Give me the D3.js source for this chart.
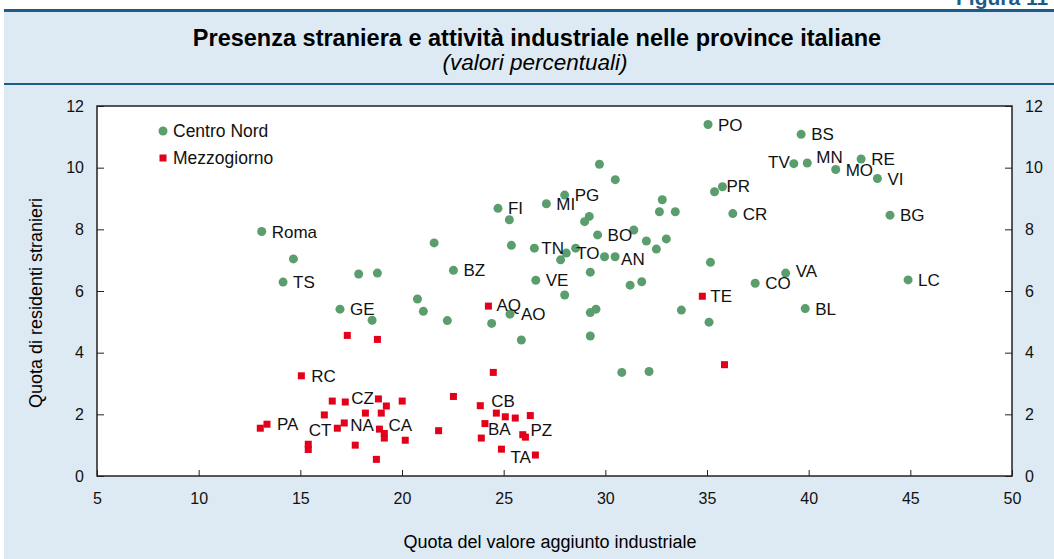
<!DOCTYPE html>
<html>
<head>
<meta charset="utf-8">
<script src="https://cdn.jsdelivr.net/npm/d3@7"></script>
<style>
  body { margin: 0; background: #ffffff; }
  svg { display: block; font-family: "Liberation Sans", Arial, Helvetica, sans-serif; }
</style>
</head>
<body>
<script>
// data: Centro Nord (x = quota valore aggiunto industriale, y = quota residenti stranieri)
const nord_x = [13.1, 14.66, 14.15, 17.87, 18.79, 21.58, 16.95, 18.53, 20.76, 21.05, 22.23,
    29.71, 30.49, 24.72, 25.28, 27.1, 28.0, 29.21, 28.98, 32.8, 32.66, 33.44, 35.37, 35.76,
    29.62, 31.4, 32.02, 33.0, 32.51, 25.38, 26.51, 28.08, 28.54, 27.8, 29.96, 30.48, 29.26,
    22.53, 26.58, 28.0, 24.41, 25.31, 25.87, 29.26, 29.54, 29.26, 31.22, 31.79, 35.17, 33.74,
    35.1, 30.81, 32.15, 35.05, 39.63, 39.27, 39.93, 42.58, 41.33, 43.38, 36.27, 44.0, 38.87,
    37.37, 44.89, 39.83]
const nord_y = [7.93, 7.04, 6.29, 6.55, 6.58, 7.56, 5.41, 5.05, 5.74, 5.34, 5.04,
    10.11, 9.61, 8.68, 8.31, 8.83, 9.11, 8.42, 8.25, 8.96, 8.57, 8.57, 9.22, 9.38,
    7.82, 7.98, 7.62, 7.69, 7.36, 7.48, 7.39, 7.23, 7.39, 7.01, 7.11, 7.11, 6.61,
    6.67, 6.35, 5.87, 4.95, 5.25, 4.41, 5.30, 5.41, 4.54, 6.19, 6.30, 6.93, 5.38,
    4.99, 3.36, 3.39, 11.40, 11.08, 10.13, 10.15, 10.28, 9.94, 9.65, 8.51, 8.46, 6.58,
    6.25, 6.36, 5.43]
const nord_labels = ['Roma', '', 'TS', '', '', '', 'GE', '', '', '', '',
    '', '', 'FI', '', 'MI', 'PG', '', '', '', '', '', '', 'PR',
    'BO', '', '', '', '', '', 'TN', 'TO', '', '', '', 'AN', '',
    'BZ', 'VE', '', '', 'AO', '', '', '', '', '', '', '', '',
    '', '', '', 'PO', 'BS', 'TV', 'MN', 'RE', 'MO', 'VI', 'CR', 'BG', 'VA',
    'CO', 'LC', 'BL']

// data: Mezzogiorno
const sud_x = [17.31, 18.79, 15.05, 24.49, 16.57, 17.21, 18.84, 19.23, 20.01, 22.53, 16.18,
    18.2, 18.98, 13.36, 13.03, 17.16, 16.82, 18.89, 19.13, 19.13, 20.16, 15.39, 15.39,
    17.7, 18.74, 21.8, 23.85, 24.64, 25.08, 25.57, 26.31, 24.08, 23.9, 25.94, 26.07,
    24.89, 26.56, 24.25, 34.77, 35.86]
const sud_y = [4.56, 4.43, 3.25, 3.36, 2.43, 2.40, 2.50, 2.27, 2.43, 2.58, 1.98,
    2.04, 2.04, 1.68, 1.55, 1.72, 1.55, 1.52, 1.38, 1.23, 1.16, 1.03, 0.86,
    1.0, 0.54, 1.47, 2.28, 2.04, 1.92, 1.88, 1.96, 1.70, 1.23, 1.34, 1.26,
    0.87, 0.68, 5.51, 5.83, 3.61]
const sud_labels = ['', '', 'RC', '', '', 'CZ', '', '', '', '', '',
    '', '', 'PA', '', 'NA', 'CT', 'CA', '', '', '', '', '',
    '', '', '', 'CB', '', '', '', '', 'BA', '', '', 'PZ',
    'TA', '', 'AQ', 'TE', '']

const x_ticks = [5, 10, 15, 20, 25, 30, 35, 40, 45, 50]
const y_ticks = [0, 2, 4, 6, 8, 10, 12]
const series_names = ['Centro Nord', 'Mezzogiorno']

// label placement tweaks (pixels), default is to the right of the mark
const label_shift = {
    'TV': [-4, -2, 'end'], 'MN': [9, -6], 'PR': [4, -1], 'CZ': [6, -4], 'CT': [-6, 2, 'end'],
    'NA': [6, 2], 'CA': [9, -4], 'CB': [11, -5], 'BA': [3, 5], 'PZ': [5, -7], 'TA': [9, 8],
    'AN': [6, 2], 'TN': [7, 0], 'AQ': [8, -1], 'AO': [11, 0], 'TE': [8, 0], 'VA': [10, -2]
}

const width = 1054, height = 559
const plot = {left: 97, right: 1012, top: 106, bottom: 476}
const c_green = '#5b9e6e', c_red = '#e2001a', c_blue = '#1d5c88', c_bg = '#deeaf3'

const svg = d3.select('body').append('svg')
    .attr('width', width)
    .attr('height', height)

// panel
svg.append('rect').attr('x', 4).attr('y', 10).attr('width', width - 4).attr('height', height - 10).attr('fill', c_bg)
svg.append('rect').attr('x', 4).attr('y', 9).attr('width', width - 4).attr('height', 3).attr('fill', c_blue)
svg.append('rect').attr('x', 4).attr('y', 83).attr('width', width - 4).attr('height', 2).attr('fill', c_blue)
svg.append('text')
    .attr('x', 956).attr('y', 5)
    .style('font-size', '21px').style('font-weight', 'bold')
    .attr('fill', c_blue)
    .text('Figura 11')

svg.append('text')
    .attr('x', 537).attr('y', 46)
    .attr('text-anchor', 'middle')
    .style('font-size', '23.5px').style('font-weight', 'bold')
    .text('Presenza straniera e attività industriale nelle province italiane')
svg.append('text')
    .attr('x', 535).attr('y', 70)
    .attr('text-anchor', 'middle')
    .style('font-size', '22.5px').style('font-style', 'italic')
    .text('(valori percentuali)')

// scales
const x = d3.scaleLinear().domain([5, 50]).range([plot.left, plot.right])
const y = d3.scaleLinear().domain([0, 12]).range([plot.bottom, plot.top])

svg.append('rect')
    .attr('x', plot.left).attr('y', plot.top)
    .attr('width', plot.right - plot.left).attr('height', plot.bottom - plot.top)
    .attr('fill', '#ffffff')

// axes
const style_axis = g => {
    g.select('.domain').remove()
    g.selectAll('.tick line').attr('stroke', '#222').attr('stroke-width', 1)
    g.selectAll('.tick text').style('font-size', '16px').attr('fill', '#111')
        .style('font-family', '"Liberation Sans", Arial, sans-serif')
}
svg.append('g').attr('transform', `translate(${plot.left},0)`)
    .call(d3.axisLeft(y).tickValues(y_ticks).tickSize(-7).tickPadding(13))
    .call(style_axis)
svg.append('g').attr('transform', `translate(${plot.right},0)`)
    .call(d3.axisRight(y).tickValues(y_ticks).tickSize(-7).tickPadding(13))
    .call(style_axis)
svg.append('g').attr('transform', `translate(0,${plot.bottom})`)
    .call(d3.axisBottom(x).tickValues(x_ticks).tickSize(-6).tickPadding(17))
    .call(style_axis)

svg.append('rect')
    .attr('x', plot.left).attr('y', plot.top)
    .attr('width', plot.right - plot.left).attr('height', plot.bottom - plot.top)
    .attr('fill', 'none').attr('stroke', '#222').attr('stroke-width', 1.5)

svg.append('text')
    .attr('x', 550).attr('y', 548)
    .attr('text-anchor', 'middle')
    .style('font-size', '18px')
    .text('Quota del valore aggiunto industriale')
svg.append('text')
    .attr('transform', `translate(42,${(plot.top + plot.bottom) / 2 + 12}) rotate(-90)`)
    .attr('text-anchor', 'middle')
    .style('font-size', '18px')
    .text('Quota di residenti stranieri')

// marks
const nord = nord_x.map((v, i) => ({x: v, y: nord_y[i], label: nord_labels[i]}))
const sud = sud_x.map((v, i) => ({x: v, y: sud_y[i], label: sud_labels[i]}))

svg.append('g').selectAll('circle')
    .data(nord)
    .enter()
    .append('circle')
    .attr('cx', d => x(d.x))
    .attr('cy', d => y(d.y))
    .attr('r', 4.5)
    .attr('fill', c_green)

const sq = 7
svg.append('g').selectAll('rect')
    .data(sud)
    .enter()
    .append('rect')
    .attr('x', d => x(d.x) - sq / 2)
    .attr('y', d => y(d.y) - sq / 2)
    .attr('width', sq).attr('height', sq)
    .attr('fill', c_red)

// point labels
svg.append('g').selectAll('text')
    .data(nord.concat(sud).filter(d => d.label))
    .enter()
    .append('text')
    .attr('x', d => x(d.x) + (label_shift[d.label] ? label_shift[d.label][0] : 10))
    .attr('y', d => y(d.y) + (label_shift[d.label] ? label_shift[d.label][1] : 0))
    .attr('dy', '0.36em')
    .attr('text-anchor', d => (label_shift[d.label] && label_shift[d.label][2]) || 'start')
    .style('font-size', '17px')
    .attr('fill', '#111')
    .text(d => d.label)

// legend
const legend = svg.append('g').attr('transform', 'translate(163,131)')
legend.append('circle').attr('cx', 0).attr('cy', 0).attr('r', 4.5).attr('fill', c_green)
legend.append('rect').attr('x', -sq / 2).attr('y', 27 - sq / 2).attr('width', sq).attr('height', sq).attr('fill', c_red)
legend.selectAll('text')
    .data(series_names)
    .enter()
    .append('text')
    .attr('x', 10)
    .attr('y', (_, i) => i * 27)
    .attr('dy', '0.36em')
    .style('font-size', '17.5px')
    .attr('fill', '#111')
    .text(d => d)
</script>
</body>
</html>
